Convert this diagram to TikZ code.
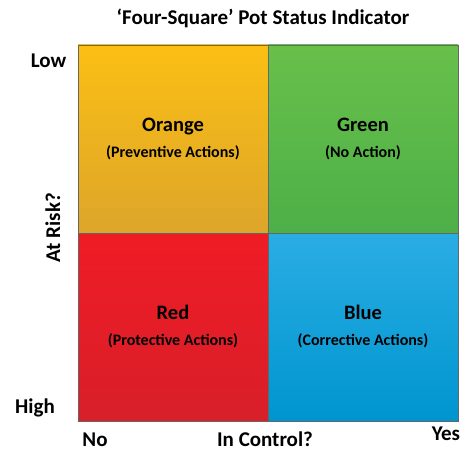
\documentclass[tikz,border=0pt]{standalone}
\usepackage{fontspec}
\setmainfont{Carlito}
\usepackage{tikz}
\usetikzlibrary{positioning}

\definecolor{orangetop}{HTML}{FBBF14}
\definecolor{orangebot}{HTML}{DDA52A}
\definecolor{greentop}{HTML}{68C04A}
\definecolor{greenbot}{HTML}{4DAF48}
\definecolor{redtop}{HTML}{EF1C25}
\definecolor{redbot}{HTML}{D81F2A}
\definecolor{bluetop}{HTML}{2AADE4}
\definecolor{bluebot}{HTML}{0095CF}

\tikzset{
  quad/.style={draw=black!60, line width=0.6pt, rectangle, minimum width=190pt, minimum height=188pt, inner sep=0pt, align=center, font=\bfseries\fontsize{20.5}{26}\selectfont},
  axislabel/.style={font=\bfseries\fontsize{21}{24}\selectfont, anchor=base}
}
\newcommand{\sub}[1]{{\fontsize{16}{26}\selectfont #1}}

\begin{document}
\begin{tikzpicture}[x=1pt, y=-1pt]
    \useasboundingbox (0,0) rectangle (462,452);
    \node (title) at (263,25) [anchor=base, font=\bfseries\fontsize{21}{24}\selectfont] {‘Four-Square’ Pot Status Indicator};

    \node (orange) at (173,139) [quad, top color=orangetop, bottom color=orangebot] {Orange\\\sub{(Preventive Actions)}};
    \node (green) [quad, right of=orange, node distance=190pt, top color=greentop, bottom color=greenbot] {Green\\\sub{(No Action)}};
    \node (red) [quad, below of=orange, node distance=188pt, top color=redtop, bottom color=redbot] {Red\\\sub{(Protective Actions)}};
    \node (blue) [quad, right of=red, node distance=190pt, top color=bluetop, bottom color=bluebot] {Blue\\\sub{(Corrective Actions)}};

    \node (low) at (48.5,67) [axislabel] {Low};
    \node (high) at (35,413) [axislabel] {High};
    \node (risk) at (60,227.5) [axislabel, rotate=90] {At Risk?};
    \node (no) at (95,446) [axislabel, inner sep=1pt] {No};
    \node (control) at (265,446) [axislabel, inner sep=1pt] {In Control?};
    \node (yes) at (446,440) [axislabel] {Yes};
\end{tikzpicture}
\end{document}
